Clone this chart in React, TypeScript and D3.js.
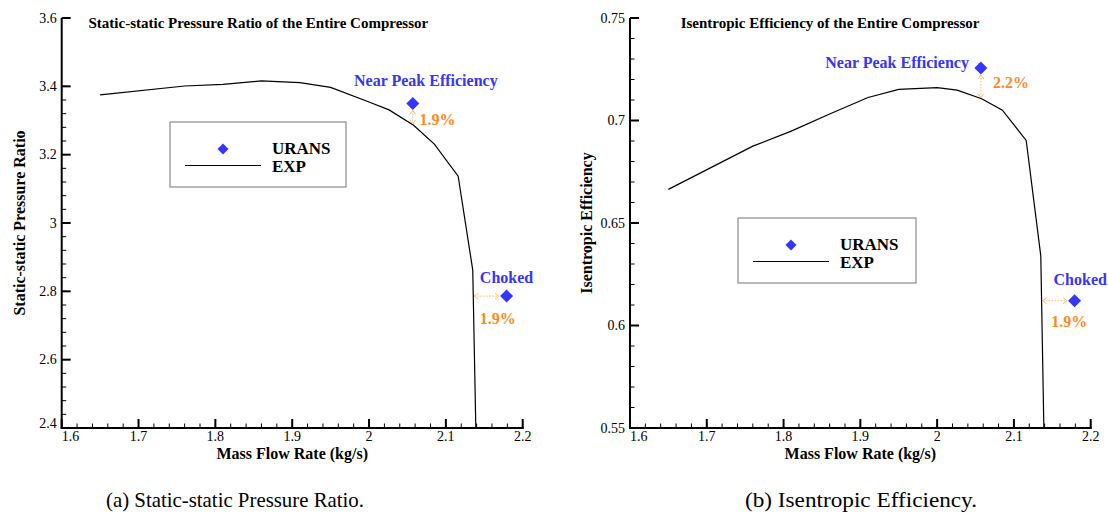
import React from 'react';
import * as d3 from 'd3';

const massFlow = [1.65, 1.76, 1.81, 1.86, 1.91, 1.95, 2.0, 2.026, 2.058, 2.085, 2.116, 2.135, 2.139];
const expPressureRatio = [3.375, 3.401, 3.406, 3.416, 3.411, 3.397, 3.354, 3.331, 3.286, 3.231, 3.137, 2.862, 2.4];
const expEfficiency = [0.6664, 0.6875, 0.6948, 0.7032, 0.7112, 0.7152, 0.716, 0.7148, 0.7106, 0.705, 0.6903, 0.634, 0.55];

// URANS operating points
const uransMassFlow = [2.057, 2.179];
const uransPressureRatio = [3.35, 2.786];
const uransEfficiency = [0.7256, 0.6121];
const pointLabels = ['Near Peak Efficiency', 'Choked'];
const pressureDeviation = ['1.9%', '1.9%'];
const efficiencyDeviation = ['2.2%', '1.9%'];

const massFlowTicks = [1.6, 1.7, 1.8, 1.9, 2.0, 2.1, 2.2];
const pressureTicks = [2.4, 2.6, 2.8, 3.0, 3.2, 3.4, 3.6];
const efficiencyTicks = [0.55, 0.6, 0.65, 0.7, 0.75];

const FONT = 'Liberation Serif';
const BLUE = '#3535ff';
const ORANGE = '#ff8a1c';
const ARROW = '#ffb877';

const fmt = (v: number) => String(+v.toFixed(3));

// y of the curve at a given x (linear between points)
const curveAt = (xs: number[], ys: number[], x: number) => {
  for (let i = 0; i < xs.length - 1; i++) {
    if (x >= xs[i] && x <= xs[i + 1]) {
      const t = (x - xs[i]) / (xs[i + 1] - xs[i]);
      return ys[i] + t * (ys[i + 1] - ys[i]);
    }
  }
  return ys[ys.length - 1];
};
// x of the curve where it crosses a given y, on the falling branch
const curveXAt = (xs: number[], ys: number[], y: number) => {
  for (let i = xs.length - 2; i >= 0; i--) {
    if ((y - ys[i]) * (y - ys[i + 1]) <= 0) {
      const t = (y - ys[i]) / (ys[i + 1] - ys[i]);
      return xs[i] + t * (xs[i + 1] - xs[i]);
    }
  }
  return xs[xs.length - 1];
};

const Arrow = ({ x1, y1, x2, y2 }) => {
  const len = Math.hypot(x2 - x1, y2 - y1);
  const ux = (x2 - x1) / len, uy = (y2 - y1) / len;
  const nx = -uy, ny = ux;
  const head = (px, py, dx, dy) =>
    `M${px - dx * 4 + nx * 3},${py - dy * 4 + ny * 3}L${px},${py}L${px - dx * 4 - nx * 3},${py - dy * 4 - ny * 3}`;
  return (
    <g stroke={ARROW} fill="none" strokeWidth={1}>
      <line x1={x1} y1={y1} x2={x2} y2={y2} strokeDasharray="1.5,1.5" />
      <path d={head(x2, y2, ux, uy)} />
      <path d={head(x1, y1, -ux, -uy)} />
    </g>
  );
};

const Diamond = ({ x, y, r }) => (
  <path d={`M${x},${y - r}L${x + r},${y}L${x},${y + r}L${x - r},${y}Z`} fill={BLUE} />
);

const Panel = ({ cfg }) => {
  const x = d3.scaleLinear().domain([1.6, 2.2]).range(cfg.xRange);
  const y = d3.scaleLinear().domain(cfg.yDomain).range([428, 18]);
  const [x0, x1] = cfg.xRange;
  const yBottom = 428;

  const line = d3.line<number>()
    .x((_, i) => x(massFlow[i]))
    .y((d) => y(d));

  const xMinor = d3.range(0, 31).map((i) => 1.6 + i * 0.02);
  const yMinor = d3.range(0, 26).map((i) => cfg.yDomain[0] + i * cfg.yMinorStep).filter((v) => v <= cfg.yDomain[1] + 1e-9);

  return (
    <g style={{ fontFamily: FONT }}>
      {/* curve */}
      <path d={line(cfg.exp) || ''} fill="none" stroke="#000" strokeWidth={1.2} />

      {/* axes */}
      <g stroke="#000">
        <line x1={x0} y1={yBottom + 1} x2={x0} y2={18} strokeWidth={2} />
        <line x1={x0 - 1} y1={yBottom} x2={x1 + 1} y2={yBottom} strokeWidth={2} />
        {xMinor.map((v, i) => (
          <line key={'xm' + i} x1={x(v)} x2={x(v)} y1={yBottom} y2={yBottom - 4.5} strokeWidth={1} />
        ))}
        {massFlowTicks.map((v) => (
          <line key={'xM' + v} x1={x(v)} x2={x(v)} y1={yBottom} y2={yBottom - 9} strokeWidth={2} />
        ))}
        {yMinor.map((v, i) => (
          <line key={'ym' + i} x1={x0} x2={x0 + 4.5} y1={y(v)} y2={y(v)} strokeWidth={1} />
        ))}
        {cfg.yTicks.map((v) => (
          <line key={'yM' + v} x1={x0} x2={x0 + 9} y1={y(v)} y2={y(v)} strokeWidth={2} />
        ))}
      </g>

      {/* tick labels */}
      <g fontSize={14} fill="#000">
        {massFlowTicks.map((v, i) => (
          <text key={'xl' + v} x={x(v)} y={yBottom + 12.5}
            textAnchor={i === 0 ? 'start' : 'middle'}>{fmt(v)}</text>
        ))}
        {cfg.yTicks.map((v, i) => (
          <text key={'yl' + v} x={x0 - 5} y={i === 0 ? y(v) + cfg.bottomLabelDy : y(v)}
            dy={i === 0 ? 0 : '0.33em'} textAnchor="end">{fmt(v)}</text>
        ))}
      </g>

      {/* titles */}
      <text x={cfg.titleX} y={28} fontSize={15} fontWeight="bold">{cfg.title}</text>
      <text x={(x0 + x1) / 2} y={459} fontSize={16} fontWeight="bold" textAnchor="middle">Mass Flow Rate (kg/s)</text>
      <text transform={`translate(${cfg.yTitleX},223) rotate(-90)`} fontSize={16} fontWeight="bold" textAnchor="middle">{cfg.yTitle}</text>
      <text x={cfg.captionX} y={507} fontSize={21} textAnchor="middle" textLength={cfg.captionWidth} lengthAdjust="spacingAndGlyphs">{cfg.caption}</text>

      {/* legend */}
      <g transform={`translate(${cfg.legend[0]},${cfg.legend[1]})`}>
        <rect x={0} y={0} width={cfg.legend[2]} height={65} fill="#fff" stroke="#8a8a8a" strokeWidth={1.2} />
        <Diamond x={53} y={27} r={5.5} />
        <line x1={15} x2={91} y1={43.5} y2={43.5} stroke="#000" strokeWidth={1.2} />
        <text x={102} y={31.5} fontSize={17} fontWeight="bold">URANS</text>
        <text x={102} y={49.5} fontSize={17} fontWeight="bold">EXP</text>
      </g>

      {/* URANS points and deviations */}
      {uransMassFlow.map((m, i) => {
        const px = x(m), py = y(cfg.urans[i]);
        const a = cfg.ann[i];
        let arrow;
        if (i === 0) {
          const cy = y(curveAt(massFlow, cfg.exp, m));
          arrow = <Arrow x1={px} y1={py + 7} x2={px} y2={cy - 1} />;
        } else {
          const cx = x(curveXAt(massFlow, cfg.exp, cfg.urans[i]));
          arrow = <Arrow x1={cx + 1} y1={py} x2={px - 7.5} y2={py} />;
        }
        return (
          <g key={'u' + i}>
            {arrow}
            <Diamond x={px} y={py} r={6.5} />
            <text x={px + a.lx} y={py + a.ly} textAnchor={a.anchor} fontSize={16} fontWeight="bold" fill={BLUE}>{pointLabels[i]}</text>
            <text x={px + a.px} y={py + a.py} fontSize={16} fontWeight="bold" fill={ORANGE}>{cfg.dev[i]}</text>
          </g>
        );
      })}
    </g>
  );
};

const panels = [
  {
    xRange: [61.7, 522.7], yDomain: [2.4, 3.6], yTicks: pressureTicks, yMinorStep: 0.04,
    exp: expPressureRatio, urans: uransPressureRatio, dev: pressureDeviation,
    title: 'Static-static Pressure Ratio of the Entire Compressor', titleX: 88.5,
    yTitle: 'Static-static Pressure Ratio', yTitleX: 25, bottomLabelDy: 0,
    caption: '(a) Static-static Pressure Ratio.', captionX: 235, captionWidth: 258,
    legend: [170, 122, 176],
    ann: [
      { lx: 13, ly: -17, anchor: 'middle', px: 6.6, py: 22 },
      { lx: -26.7, ly: -13, anchor: 'start', px: -26.7, py: 28 },
    ],
  },
  {
    xRange: [630, 1090.7], yDomain: [0.55, 0.75], yTicks: efficiencyTicks, yMinorStep: 0.01,
    exp: expEfficiency, urans: uransEfficiency, dev: efficiencyDeviation,
    title: 'Isentropic Efficiency of the Entire Compressor', titleX: 680.7,
    yTitle: 'Isentropic Efficiency', yTitleX: 592, bottomLabelDy: 5,
    caption: '(b) Isentropic Efficiency.', captionX: 861, captionWidth: 232,
    legend: [738, 218, 178],
    ann: [
      { lx: -12, ly: 0, anchor: 'end', px: 12, py: 20 },
      { lx: -21, ly: -15.7, anchor: 'start', px: -23.3, py: 26.3 },
    ],
  },
];

export default function App() {
  return (
    <svg width={1108} height={516} style={{ position: 'absolute', left: 0, top: 0, background: '#fff' }}>
      <rect width={1108} height={516} fill="#fff" />
      {panels.map((p, i) => <Panel key={i} cfg={p} />)}
    </svg>
  );
}
